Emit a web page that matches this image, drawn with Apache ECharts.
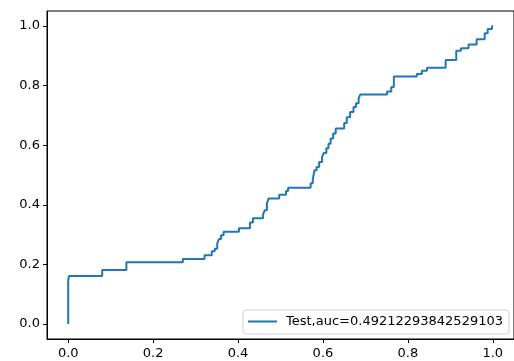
<!DOCTYPE html>
<html>
<head>
<meta charset="utf-8">
<script src="https://cdn.jsdelivr.net/npm/echarts@6/dist/echarts.min.js"></script>
<style>
  html, body { margin: 0; padding: 0; background: #fff; }
  #chart { width: 514px; height: 361px; }
</style>
</head>
<body>
<div id="chart"></div>
<script>
// ROC curve (corner points after each rise)
const fpr = [0, 0, 0.002, 0.080, 0.137, 0.270, 0.321, 0.338, 0.345, 0.351, 0.355, 0.360, 0.366,
  0.402, 0.428, 0.435, 0.459, 0.463, 0.468, 0.472, 0.497, 0.513, 0.518, 0.571, 0.576, 0.580,
  0.585, 0.591, 0.598, 0.602, 0.608, 0.613, 0.618, 0.624, 0.630, 0.650, 0.656, 0.664, 0.672,
  0.678, 0.684, 0.688, 0.751, 0.761, 0.767, 0.821, 0.833, 0.845, 0.889, 0.914, 0.925, 0.943,
  0.962, 0.981, 0.988, 0.998, 1.0];
const tpr = [0, 0.148, 0.161, 0.181, 0.207, 0.218, 0.231, 0.244, 0.253, 0.271, 0.285, 0.298, 0.310,
  0.321, 0.341, 0.355, 0.368, 0.382, 0.405, 0.421, 0.434, 0.446, 0.457, 0.472, 0.485, 0.516,
  0.527, 0.544, 0.561, 0.574, 0.590, 0.605, 0.622, 0.639, 0.656, 0.674, 0.694, 0.711, 0.728,
  0.741, 0.756, 0.770, 0.780, 0.795, 0.830, 0.839, 0.850, 0.860, 0.886, 0.917, 0.925, 0.938,
  0.955, 0.975, 0.990, 1.0, 1.0];
const tickValues = [0, 0.2, 0.4, 0.6, 0.8, 1.0];
const seriesName = "Test,auc=0.49212293842529103";

const chart = echarts.init(document.getElementById("chart"));

const axisCommon = {
  type: "value",
  min: -0.05,
  max: 1.05,
  splitLine: { show: false },
  axisLine: { show: true, onZero: false, lineStyle: { color: "#000", width: 1 } },
  axisTick: {
    show: true,
    inside: false,
    length: 4,
    customValues: tickValues,
    lineStyle: { color: "#000", width: 1 },
  },
  axisLabel: {
    customValues: tickValues,
    color: "#000",
    fontSize: 13,
    fontFamily: "DejaVu Sans",
    formatter: (v) => v.toFixed(1),
  },
};

chart.setOption({
  animation: false,
  grid: {
    show: true,
    left: 47,
    top: 11,
    width: 472,
    height: 328,
    borderColor: "#000",
    borderWidth: 1,
    backgroundColor: "transparent",
  },
  legend: {
    left: 243,
    top: 310,
    width: 268,
    padding: [5, 6, 6, 4],
    itemWidth: 29,
    itemHeight: 14,
    backgroundColor: "rgba(255,255,255,0.8)",
    borderColor: "#d0d0d0",
    borderWidth: 1,
    borderRadius: 3,
    itemStyle: { opacity: 0 },
    lineStyle: { width: 2, color: "#1f77b4" },
    textStyle: {
      color: "#000",
      fontSize: 13,
      fontFamily: "DejaVu Sans",
      padding: [0, 0, 0, 4],
    },
    data: [seriesName],
  },
  xAxis: { ...axisCommon, axisLabel: { ...axisCommon.axisLabel, margin: 8 } },
  yAxis: { ...axisCommon, axisLabel: { ...axisCommon.axisLabel, margin: 7 } },
  series: [
    {
      name: seriesName,
      type: "line",
      step: "end",
      symbol: "none",
      lineStyle: { color: "#1f77b4", width: 2 },
      itemStyle: { color: "#1f77b4" },
      data: fpr.map((x, i) => [x, tpr[i]]),
    },
  ],
});
</script>
</body>
</html>
